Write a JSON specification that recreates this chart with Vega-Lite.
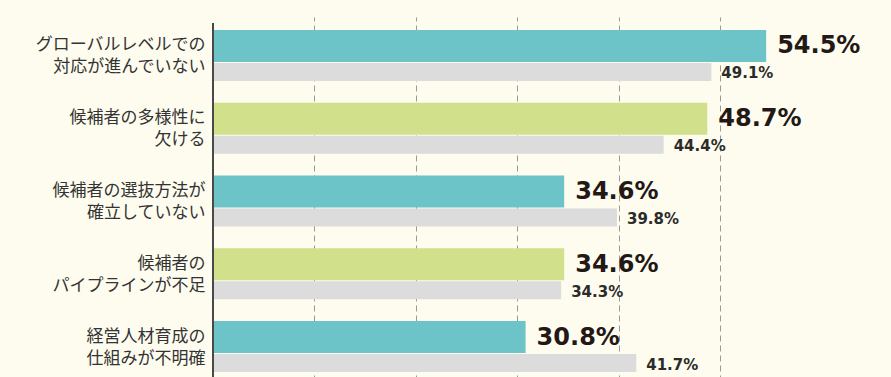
{
  "$schema": "https://vega.github.io/schema/vega-lite/v6.json",
  "width": 678,
  "height": 354,
  "autosize": {"type": "none"},
  "padding": {"left": 213, "top": 23, "right": 0, "bottom": 0},
  "background": "#fdfcee",
  "config": {"view": {"stroke": null}},
  "data": {
    "values": [
      {"item": "グローバルレベルでの\n対応が進んでいない", "current": 54.5, "previous": 49.1, "kind": "A"},
      {"item": "候補者の多様性に\n欠ける", "current": 48.7, "previous": 44.4, "kind": "B"},
      {"item": "候補者の選抜方法が\n確立していない", "current": 34.6, "previous": 39.8, "kind": "A"},
      {"item": "候補者の\nパイプラインが不足", "current": 34.6, "previous": 34.3, "kind": "B"},
      {"item": "経営人材育成の\n仕組みが不明確", "current": 30.8, "previous": 41.7, "kind": "A"}
    ]
  },
  "encoding": {
    "y": {
      "field": "item",
      "type": "nominal",
      "sort": null,
      "scale": {"range": [-4, 360], "paddingInner": 0, "paddingOuter": 0},
      "axis": {
        "title": null,
        "domain": false,
        "ticks": false,
        "labelExpr": "split(datum.label, '\\n')",
        "labelFont": "Noto Sans CJK JP",
        "labelFontSize": 17,
        "labelLineHeight": 22,
        "labelOffset": -10,
        "labelColor": "#333333",
        "labelPadding": 8,
        "labelLimit": 300
      }
    }
  },
  "layer": [
    {
      "mark": {"type": "bar", "height": 32, "yOffset": -9.5},
      "encoding": {
        "x": {
          "field": "current",
          "type": "quantitative",
          "scale": {"domain": [0, 66.8], "nice": false},
          "axis": {
            "title": null,
            "labels": false,
            "ticks": false,
            "domain": false,
            "grid": true,
            "values": [10, 20, 30, 40, 50],
            "gridDash": [6, 4],
            "gridColor": "#999999",
            "gridWidth": 1
          }
        },
        "color": {
          "field": "kind",
          "type": "nominal",
          "scale": {"domain": ["A", "B"], "range": ["#6cc4c9", "#d0e08b"]},
          "legend": null
        }
      }
    },
    {
      "mark": {"type": "bar", "height": 18, "yOffset": 16.5, "color": "#dcdcdc"},
      "encoding": {
        "x": {"field": "previous", "type": "quantitative"}
      }
    },
    {
      "mark": {"type": "rule", "color": "#4a4a4a", "strokeWidth": 1.5},
      "encoding": {"x": {"datum": 0, "type": "quantitative"}, "y": null}
    },
    {
      "mark": {"type": "text", "align": "left", "baseline": "middle", "dx": 11, "yOffset": -9, "font": "DejaVu Sans", "fontWeight": "bold", "fontSize": 24, "color": "#231815", "text": {"expr": "format(datum.current, '.1f') + '%'"}},
      "encoding": {
        "x": {"field": "current", "type": "quantitative"}
      }
    },
    {
      "mark": {"type": "text", "align": "left", "baseline": "middle", "dx": 10, "yOffset": 18, "font": "DejaVu Sans", "fontWeight": "bold", "fontSize": 15, "color": "#2b2b2b", "text": {"expr": "format(datum.previous, '.1f') + '%'"}},
      "encoding": {
        "x": {"field": "previous", "type": "quantitative"}
      }
    }
  ]
}
